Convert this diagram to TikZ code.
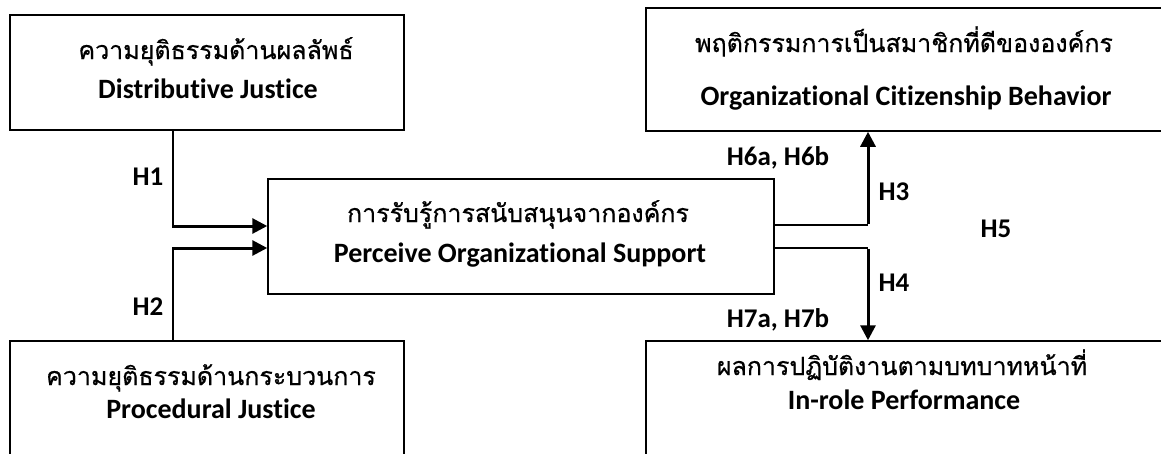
\documentclass[tikz,border=0pt]{standalone}
\usepackage{fontspec}
\setmainfont{Carlito}[Ligatures=NoCommon]
\newfontfamily\thaifont[Script=Thai,FakeBold=0.6]{Loma}
\usetikzlibrary{arrows.meta}
\tikzset{
  box/.style={draw=black, line width=1.5pt, rectangle, inner sep=0pt},
  eng/.style={font=\fontsize{28}{30}\selectfont\bfseries, inner sep=0pt, anchor=base},
  th/.style={font=\fontsize{25}{28}\thaifont, inner sep=0pt, anchor=base},
  lab/.style={font=\fontsize{27}{29}\selectfont\bfseries, inner sep=0pt},
  thinline/.style={line width=1.6pt},
  thickarrow/.style={line width=3pt, -{Triangle[length=15pt,width=15pt]}},
}
\begin{document}
\begin{tikzpicture}[x=1pt,y=-1pt]
\clip (0,0) rectangle (1161,453);
\fill[white] (0,0) rectangle (1161,453);
% boxes
\node[box, minimum width=394pt, minimum height=115pt] (dj) at (207,72.5) {};
\node[box, minimum width=506pt, minimum height=115pt] (pos) at (521,236.5) {};
\node[box, minimum width=530pt, minimum height=123pt] (ocb) at (911,69.5) {};
\node[box, minimum width=394pt, minimum height=140pt] (pj) at (207,411) {};
\node[box, minimum width=530pt, minimum height=140pt] (irp) at (911,411) {};
% texts
\node[th] (djth) at (216,59) {ความยุติธรรมด้านผลลัพธ์};
\node[eng] (djen) at (208,98) {Distributive Justice};
\node[th] (posth) at (518,222) {การรับรู้การสนับสนุนจากองค์กร};
\node[eng] (posen) at (520,262) {Perceive Organizational Support};
\node[th] (ocbth) at (904,52) {พฤติกรรมการเป็นสมาชิกที่ดีขององค์กร};
\node[eng] (ocben) at (906,105) {Organizational Citizenship Behavior};
\node[th] (pjth) at (211,385) {ความยุติธรรมด้านกระบวนการ};
\node[eng] (pjen) at (211,418) {Procedural Justice};
\node[th] (irpth) at (902,375) {ผลการปฏิบัติงานตามบทบาทหน้าที่};
\node[eng] (irpen) at (904,409) {In-role Performance};
% labels
\node[lab] (h1) at (148,177) {H1};
\node[lab] (h2) at (148,307) {H2};
\node[lab] (h6) at (778,158) {H6a, H6b};
\node[lab] (h7) at (778,320) {H7a, H7b};
\node[lab] (h3) at (894,192) {H3};
\node[lab] (h4) at (894,283) {H4};
\node[lab] (h5) at (996,229) {H5};
% connector coordinates
\coordinate (c1) at (173,226);
\coordinate (c2) at (173,248);
\coordinate (c3) at (868,225);
\coordinate (c4) at (868,248);
% connectors
\draw[thinline] (c1 |- dj.south) -- (c1);
\draw[thickarrow] ([xshift=-1pt]c1) -- (c1 -| pos.west);
\draw[thinline] (c2 |- pj.north) -- (c2);
\draw[thickarrow] ([xshift=-1pt]c2) -- (c2 -| pos.west);
\draw[thinline] (c3 -| pos.east) -- (c3);
\draw[thickarrow] ([yshift=1pt]c3) -- (c3 |- ocb.south);
\draw[thinline] (c4 -| pos.east) -- (c4);
\draw[thickarrow] ([yshift=-1pt]c4) -- (c4 |- irp.north);
\end{tikzpicture}
\end{document}
